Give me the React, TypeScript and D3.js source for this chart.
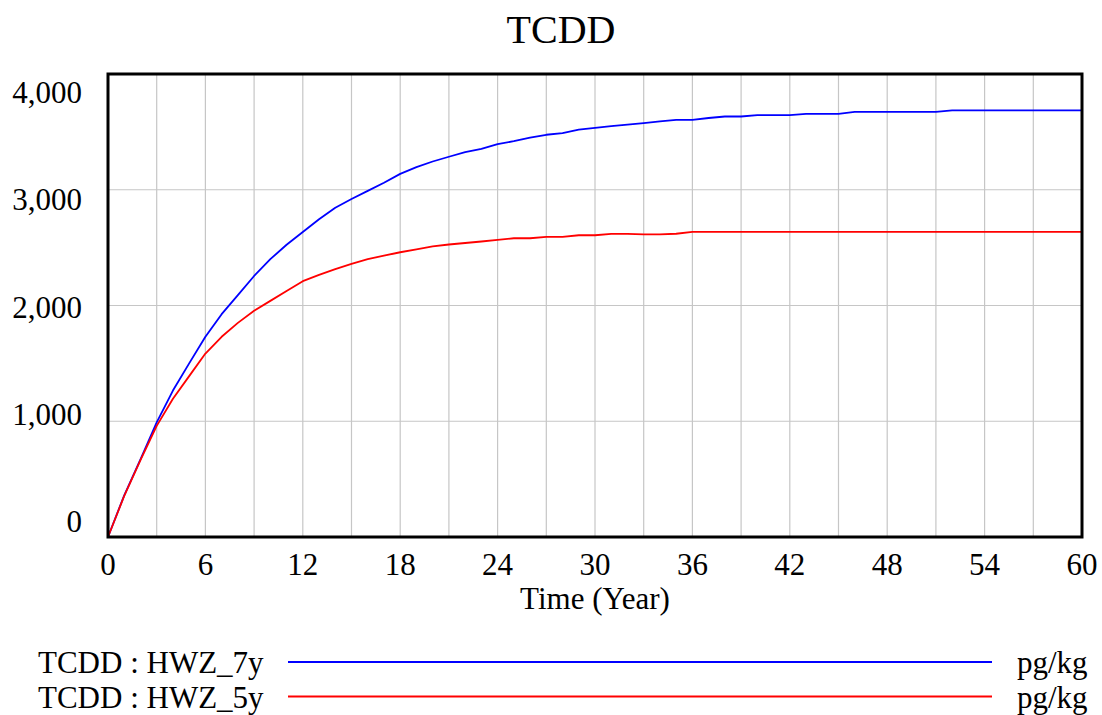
import React, { useEffect, useRef } from 'react';
import * as d3 from 'd3';

// years 0..60, one value per year
const years = d3.range(0, 61);

const hwz7y = [
  0, 360, 670, 990, 1265, 1500, 1730, 1925, 2090, 2255,
  2400, 2525, 2635, 2745, 2845, 2920, 2990, 3060, 3137, 3195,
  3244, 3285, 3325, 3353, 3394, 3420, 3450, 3475, 3490, 3520,
  3535, 3550, 3563, 3575, 3590, 3604, 3604, 3620, 3633, 3633,
  3645, 3645, 3645, 3656, 3656, 3656, 3673, 3673, 3673, 3673,
  3673, 3673, 3685, 3685, 3685, 3685, 3685, 3685, 3685, 3685,
  3685,
];

const hwz5y = [
  0, 355, 665, 960, 1195, 1390, 1585, 1730, 1850, 1955,
  2040, 2125, 2210, 2265, 2315, 2360, 2400, 2430, 2460, 2485,
  2510, 2527, 2540, 2553, 2567, 2581, 2581, 2593, 2593, 2607,
  2607, 2619, 2619, 2615, 2615, 2620, 2636, 2636, 2636, 2636,
  2636, 2636, 2636, 2636, 2636, 2636, 2636, 2636, 2636, 2636,
  2636, 2636, 2636, 2636, 2636, 2636, 2636, 2636, 2636, 2636,
  2636,
];

const xTicks = [0, 6, 12, 18, 24, 30, 36, 42, 48, 54, 60];
const xGrid = d3.range(0, 61, 3);
const yTicks = [0, 1000, 2000, 3000, 4000];

const series = [
  { name: 'TCDD : HWZ_7y', unit: 'pg/kg', color: '#0000ff', values: hwz7y },
  { name: 'TCDD : HWZ_5y', unit: 'pg/kg', color: '#ff0000', values: hwz5y },
];

const width = 1102;
const height = 715;
const margin = { top: 74, right: 20, bottom: 178, left: 108 };
const font = '"Liberation Serif", "Times New Roman", serif';

const App = () => {
  const chartRef = useRef(null);

  useEffect(() => {
    const svg = d3.select(chartRef.current)
      .attr('width', width)
      .attr('height', height);

    svg.selectAll('*').remove();

    const innerWidth = width - margin.left - margin.right;
    const innerHeight = height - margin.top - margin.bottom;

    const x = d3.scaleLinear().domain([0, 60]).range([0, innerWidth]);
    const y = d3.scaleLinear().domain([0, 4000]).range([innerHeight, 0]);
    // vensim squeezes the value labels inward from the frame edges
    const yLabel = d3.scaleLinear().domain([0, 4000]).range([532 - margin.top, 103 - margin.top]);

    svg.append('rect')
      .attr('width', width)
      .attr('height', height)
      .attr('fill', '#ffffff');

    svg.append('text')
      .attr('x', 561)
      .attr('y', 43)
      .attr('text-anchor', 'middle')
      .attr('font-family', font)
      .attr('font-size', 40)
      .text('TCDD');

    const g = svg.append('g')
      .attr('transform', `translate(${margin.left},${margin.top})`);

    g.selectAll('.vgrid')
      .data(xGrid)
      .enter()
      .append('line')
      .attr('class', 'vgrid')
      .attr('x1', (d) => x(d))
      .attr('x2', (d) => x(d))
      .attr('y1', 0)
      .attr('y2', innerHeight)
      .attr('stroke', '#c6c6c6')
      .attr('stroke-width', 1.2);

    g.selectAll('.hgrid')
      .data(yTicks)
      .enter()
      .append('line')
      .attr('class', 'hgrid')
      .attr('x1', 0)
      .attr('x2', innerWidth)
      .attr('y1', (d) => y(d))
      .attr('y2', (d) => y(d))
      .attr('stroke', '#c6c6c6')
      .attr('stroke-width', 1.2);

    const line = d3.line()
      .x((d, i) => x(years[i]))
      .y((d) => y(d));

    series.forEach((s) => {
      g.append('path')
        .datum(s.values)
        .attr('d', line)
        .attr('fill', 'none')
        .attr('stroke', s.color)
        .attr('stroke-width', 1.8)
        .attr('stroke-linejoin', 'round');
    });

    g.append('rect')
      .attr('x', 0)
      .attr('y', 0)
      .attr('width', innerWidth)
      .attr('height', innerHeight)
      .attr('fill', 'none')
      .attr('stroke', '#000000')
      .attr('stroke-width', 3);

    g.selectAll('.ylab')
      .data(yTicks)
      .enter()
      .append('text')
      .attr('class', 'ylab')
      .attr('x', -26)
      .attr('y', (d) => yLabel(d))
      .attr('text-anchor', 'end')
      .attr('font-family', font)
      .attr('font-size', 31)
      .text((d) => d3.format(',')(d));

    g.selectAll('.xlab')
      .data(xTicks)
      .enter()
      .append('text')
      .attr('class', 'xlab')
      .attr('x', (d) => x(d))
      .attr('y', innerHeight + 38)
      .attr('text-anchor', 'middle')
      .attr('font-family', font)
      .attr('font-size', 31)
      .text((d) => d);

    g.append('text')
      .attr('x', innerWidth / 2)
      .attr('y', innerHeight + 72)
      .attr('text-anchor', 'middle')
      .attr('font-family', font)
      .attr('font-size', 31)
      .text('Time (Year)');

    // legend
    const legend = svg.append('g');
    series.forEach((s, i) => {
      const base = 673 + i * 34.5;
      legend.append('text')
        .attr('x', 38)
        .attr('y', base)
        .attr('font-family', font)
        .attr('font-size', 31)
        .text(s.name);
      legend.append('line')
        .attr('x1', 288)
        .attr('x2', 992)
        .attr('y1', base - 11)
        .attr('y2', base - 11)
        .attr('stroke', s.color)
        .attr('stroke-width', 1.8);
      legend.append('text')
        .attr('x', 1017)
        .attr('y', base)
        .attr('font-family', font)
        .attr('font-size', 31)
        .text(s.unit);
    });
  }, []);

  return (
    <div style={{ position: 'absolute', left: 0, top: 0 }}>
      <svg ref={chartRef}></svg>
    </div>
  );
};

export default App;
